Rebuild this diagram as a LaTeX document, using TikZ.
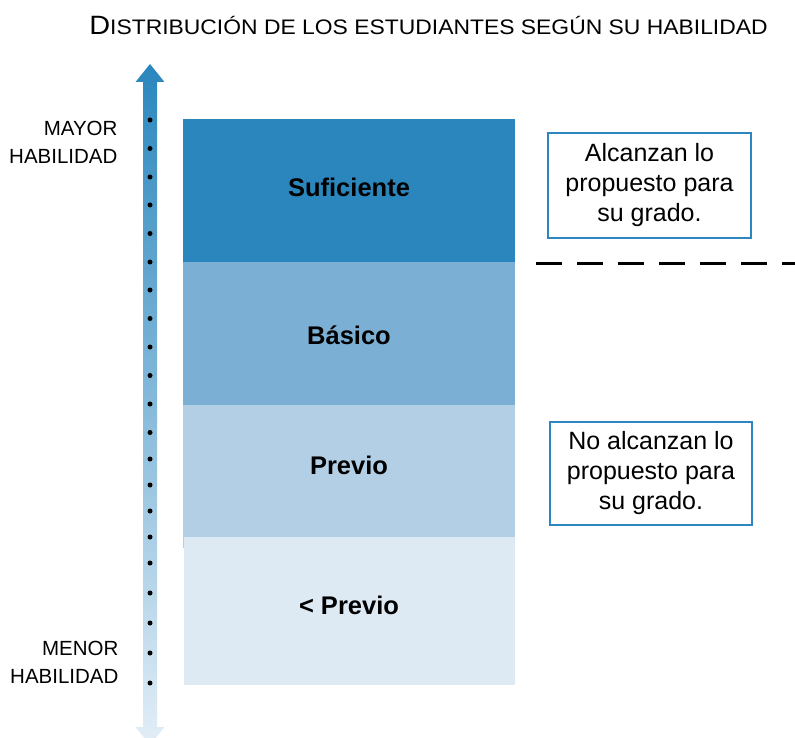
\documentclass[tikz,border=0pt]{standalone}
\usepackage{fontspec}
\setmainfont{Liberation Sans}
\definecolor{cSuf}{HTML}{2A86BD}
\definecolor{cBas}{HTML}{7BAFD4}
\definecolor{cPre}{HTML}{B3CFE5}
\definecolor{cLow}{HTML}{DDEAF4}
\definecolor{cArrTop}{HTML}{2A86BD}
\definecolor{cArrBot}{HTML}{E2EEF7}
\definecolor{cBorder}{HTML}{2E86C1}
\tikzset{
  levellabel/.style={font=\fontsize{25.5}{30}\selectfont\bfseries, text=black},
  notebox/.style={draw=cBorder, line width=2pt, fill=white, align=center, inner sep=0pt,
    font=\fontsize{25}{30}\selectfont, text=black},
  sidelabel/.style={align=right, anchor=east, font=\fontsize{20.5}{28}\selectfont, text=black},
  dotmark/.style={circle, fill=black, inner sep=0pt, minimum size=5pt},
}
\begin{document}
\begin{tikzpicture}[x=1pt, y=-1pt]
\useasboundingbox (0,0) rectangle (795,738);
\clip (0,0) rectangle (795,738);
% title
\node[anchor=base, text=black, inner sep=0pt] (title) at (428.5,35)
  {\scalebox{1.09}[1]{\fontsize{26.5}{30}\selectfont D\fontsize{21}{24}\selectfont ISTRIBUCIÓN DE LOS ESTUDIANTES SEGÚN SU HABILIDAD}};
% double arrow with gradient
\shade[top color=cArrTop, bottom color=cArrBot]
  (150,64) -- (164.5,82) -- (157,82) -- (157,727) -- (164.5,727) -- (150,745)
  -- (135.5,727) -- (143,727) -- (143,82) -- (135.5,82) -- cycle;
% dots
\foreach \yy [count=\i] in {120,148.5,177,205,233.5,262,290,318.5,347,375.5,404,432.5,459,485,511,537,563,593,623,653,683}
  \node[dotmark] (dot\i) at (150,\yy) {};
% levels
\fill[cSuf] (183,119) rectangle (515,262);
\fill[cBas] (183,262) rectangle (515,405);
\fill[cPre] (183,405) rectangle (515,548);
\fill[cLow] (184,537) rectangle (515,685);
\node[levellabel] (suf) at (349,187) {Suficiente};
\node[levellabel] (bas) at (349,335) {Básico};
\node[levellabel] (pre) at (349,465) {Previo};
\node[levellabel] (low) at (349,605) {< Previo};
% side labels
\node[sidelabel] (mayor) at (121,142) {MAYOR\\HABILIDAD};
\node[sidelabel] (menor) at (122,662) {MENOR\\HABILIDAD};
% note boxes
\node[notebox, minimum width=203pt, minimum height=105pt] (alc) at (649.5,185.5)
  {Alcanzan lo\\propuesto para\\su grado.};
\node[notebox, minimum width=202pt, minimum height=103pt] (noalc) at (651,473.5)
  {No alcanzan lo\\propuesto para\\su grado.};
% dashed cut line
\coordinate (cutL) at (536,263);
\coordinate (cutR) at (800,263);
\draw[black, line width=3pt, dash pattern=on 26pt off 15pt] (cutL) -- (cutR);
\end{tikzpicture}
\end{document}
